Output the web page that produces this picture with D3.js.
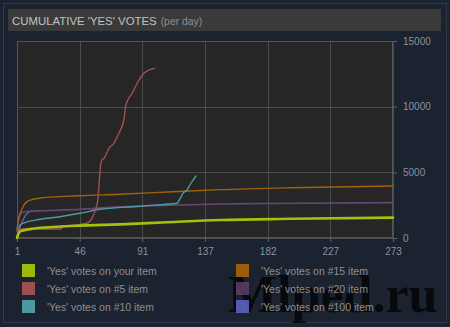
<!DOCTYPE html>
<html><head><meta charset="utf-8">
<script src="https://cdn.jsdelivr.net/npm/d3@7"></script>
<style>
html,body{margin:0;padding:0;background:#1b2230;}
svg{display:block;}
</style></head>
<body>
<svg id="chart" width="450" height="327"></svg>
<script>
// ---- data ----
const xTickLabels = [1, 46, 91, 137, 182, 227, 273];
const yTicks = [0, 5000, 10000, 15000];

const yourDays   = [1, 2, 3, 5, 7, 12, 18, 30, 47, 76, 110, 148, 200, 273];
const yourVals   = [0, 300, 470, 560, 610, 700, 780, 860, 940, 1040, 1200, 1370, 1460, 1550];

const n5Days = [1, 2, 3, 10, 20, 32.6, 34.5, 40, 51.4, 55.2, 58.1, 59.6, 60.5, 61.5, 62.5, 64, 67.5, 71.1, 74.7, 78.3, 79.5, 80.6, 84.3, 89.2, 92.8, 96.4, 100.5];
const n5Vals = [100, 500, 680, 680, 680, 680, 860, 950, 1120, 1500, 2260, 3020, 4300, 5600, 5950, 6070, 6830, 7210, 7970, 8985, 10000, 10380, 11020, 12030, 12540, 12790, 12920];

const n10Days = [1, 2, 3.2, 6.8, 17.6, 32.1, 46.6, 61, 84.9, 100, 116.7, 119, 121, 124, 126, 128, 130.4];
const n10Vals = [50, 500, 990, 1165, 1424, 1622, 1880, 2185, 2383, 2500, 2642, 3000, 3404, 3655, 4036, 4350, 4721];

const n15Days = [1, 2, 3, 4, 6, 8, 12, 18, 46, 75, 110, 148, 200, 273];
const n15Vals = [600, 1400, 1800, 2050, 2500, 2750, 2930, 3050, 3220, 3330, 3500, 3680, 3830, 3960];

const n20Days = [1, 2, 3, 5, 8, 20, 46, 75, 100, 148, 182, 273];
const n20Vals = [500, 1300, 1700, 1950, 2020, 2080, 2180, 2370, 2450, 2590, 2630, 2690];

const n100Days = [1, 2, 3, 5, 7, 10, 11];
const n100Vals = [100, 400, 800, 1300, 1700, 2000, 2050];

const legendLabels = ["'Yes' votes on your item", "'Yes' votes on #5 item", "'Yes' votes on #10 item",
                      "'Yes' votes on #15 item", "'Yes' votes on #20 item", "'Yes' votes on #100 item"];
const seriesColors = ["#a3c10d", "#a05252", "#4f9aa3", "#a3610b", "#654878", "#5d65c6"];
const swatchColors = ["#9dba0c", "#9b4f4f", "#4f98a1", "#9b5c0c", "#5b3f6c", "#5d65c6"];

// ---- layout ----
const svg = d3.select("#chart");
const plot = {l: 17, r: 393, t: 41, b: 238};

const x = d3.scaleLinear().domain([1, 273]).range([plot.l, plot.r]);
const y = d3.scaleLinear().domain([0, 15000]).range([plot.b, plot.t]);

// outer panel
svg.append("rect").attr("x", 3.5).attr("y", 3.5).attr("width", 443).attr("height", 319)
  .attr("fill", "#1b2230").attr("stroke", "#303a48").attr("stroke-width", 1);

// title bar
svg.append("rect").attr("x", 8).attr("y", 9).attr("width", 433).attr("height", 22).attr("fill", "#3a3a3b");
const title = svg.append("text").attr("x", 12).attr("y", 24.5)
  .attr("font-family", "Liberation Sans, Arial, sans-serif").attr("font-size", 11.4).attr("fill", "#c2c2c2");
title.append("tspan").text("CUMULATIVE 'YES' VOTES");
title.append("tspan").attr("font-size", 10.4).attr("fill", "#8e8e8e").attr("dx", 4).text("(per day)");

// plot background
svg.append("rect").attr("x", plot.l).attr("y", plot.t).attr("width", plot.r - plot.l).attr("height", plot.b - plot.t)
  .attr("fill", "#262626");

const xTickVals = d3.range(7).map(k => 1 + k * 272 / 6);

// grid
const grid = svg.append("g").attr("stroke", "#4b4b4b").attr("stroke-width", 1);
xTickVals.forEach(v => {
  grid.append("line").attr("x1", Math.round(x(v)) + 0.5).attr("x2", Math.round(x(v)) + 0.5)
    .attr("y1", plot.t).attr("y2", plot.b);
});
yTicks.forEach(v => {
  grid.append("line").attr("x1", plot.l).attr("x2", plot.r)
    .attr("y1", Math.round(y(v)) + 0.5).attr("y2", Math.round(y(v)) + 0.5);
});
svg.append("rect").attr("x", plot.l + 0.5).attr("y", plot.t + 0.5)
  .attr("width", plot.r - plot.l - 1).attr("height", plot.b - plot.t - 1)
  .attr("fill", "none").attr("stroke", "#555555");

// axes
const yAxis = d3.axisRight(y).tickValues(yTicks).tickSize(4).tickPadding(6).tickFormat(d3.format("d"));
const yg = svg.append("g").attr("transform", `translate(${plot.r},0)`).call(yAxis);
const xAxis = d3.axisBottom(x).tickValues(xTickVals).tickSize(4).tickPadding(6)
  .tickFormat((d, i) => xTickLabels[i]);
const xg = svg.append("g").attr("transform", `translate(0,${plot.b})`).call(xAxis);
[yg, xg].forEach(g => {
  g.select(".domain").remove();
  g.selectAll(".tick line").attr("stroke", "#5a6270");
  g.selectAll(".tick text").attr("fill", "#8a939e").attr("font-size", 10)
    .attr("font-family", "Liberation Sans, Arial, sans-serif");
});

// series
const series = [
  {days: n100Days, vals: n100Vals, c: seriesColors[5], w: 1.3},
  {days: n20Days, vals: n20Vals, c: seriesColors[4], w: 1.6},
  {days: n15Days, vals: n15Vals, c: seriesColors[3], w: 1.4},
  {days: n10Days, vals: n10Vals, c: seriesColors[2], w: 1.4},
  {days: n5Days, vals: n5Vals, c: seriesColors[1], w: 1.4},
  {days: yourDays, vals: yourVals, c: seriesColors[0], w: 2.6},
];
const line = d3.line().x(d => x(d[0])).y(d => y(d[1])).curve(d3.curveMonotoneX);
series.forEach(s => {
  svg.append("path").datum(s.days.map((d, i) => [d, s.vals[i]]))
    .attr("d", line).attr("fill", "none").attr("stroke", s.c).attr("stroke-width", s.w)
    .attr("stroke-linejoin", "round").attr("stroke-linecap", "round");
});

// watermark (beneath legend text, as in the reference)
svg.append("text").attr("x", 228).attr("y", 312).text("Mlped.ru")
  .attr("font-family", "Liberation Serif, serif").attr("font-weight", "bold").attr("font-size", 52)
  .attr("fill", "#000").attr("fill-opacity", 0.72);

// legend
legendLabels.forEach((lab, i) => {
  const col = Math.floor(i / 3), row = i % 3;
  const lx = col === 0 ? 22 : 236;
  const ly = 264 + row * 18;
  svg.append("rect").attr("x", lx).attr("y", ly).attr("width", 13).attr("height", 13).attr("fill", swatchColors[i])
    .attr("fill-opacity", col === 1 && row > 0 ? 0.85 : 1);
  svg.append("text").attr("x", lx + 25).attr("y", ly + 11).text(lab)
    .attr("font-family", "Liberation Sans, Arial, sans-serif").attr("font-size", 10.5).attr("fill", "#8f8f8f");
});
</script>
</body></html>
